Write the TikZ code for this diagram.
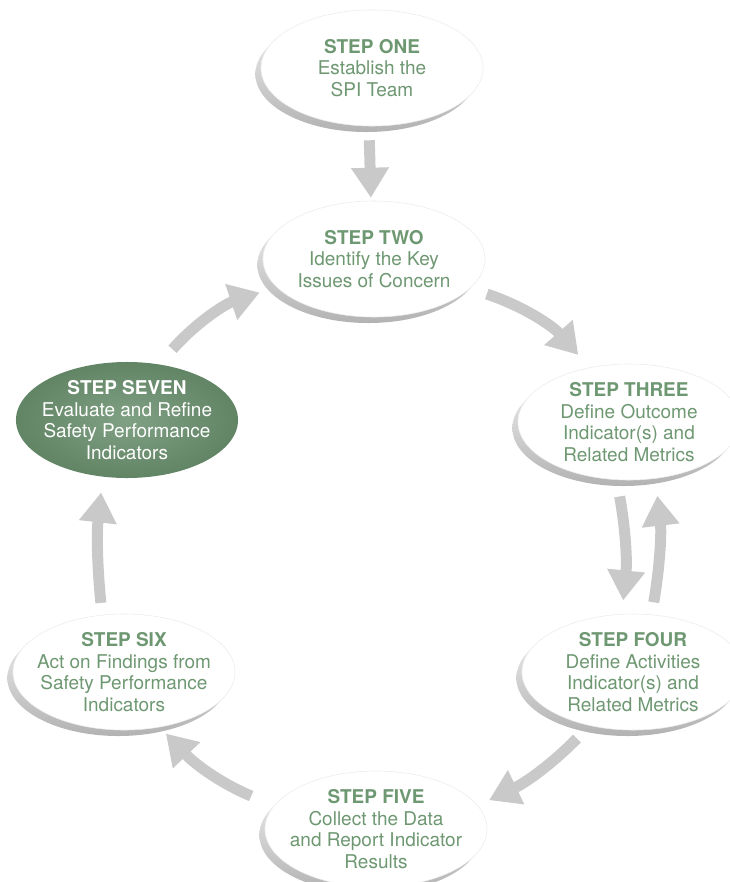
\documentclass[tikz,border=0pt]{standalone}
\usepackage{fontspec}
\setmainfont{TeX Gyre Heros}
\usetikzlibrary{shapes.geometric, arrows.meta, shadows}
\definecolor{stepgreen}{RGB}{110,152,114}
\definecolor{sevengreen}{RGB}{106,144,110}

\begin{document}
\begin{tikzpicture}[x=0.025cm, y=-0.025cm,
  basebox/.style={ellipse, minimum width=5.55cm, minimum height=2.9cm,
    inner sep=-1cm, align=center, font=\fontsize{13.5}{15.4}\selectfont},
  stepbox/.style={basebox, text=stepgreen, fill=white, draw=gray!15, thin,
    general shadow={shadow xshift=-.14cm, shadow yshift=-.15cm,
      top color=gray!10, bottom color=gray!60}},
  greenbox/.style={basebox, text=white,
    inner color=sevengreen!85!white, outer color=sevengreen!92!black},
  flow/.style={draw=gray!42, line width=.275cm,
    -{Triangle[length=.75cm, width=.9cm]}}]

  \useasboundingbox (0,0) rectangle (730,882);

  \node[stepbox] (one) at (372,68) {\textbf{STEP ONE}\\Establish the\\SPI Team};
  \node[stepbox] (two) at (374,259) {\textbf{STEP TWO}\\Identify the Key\\Issues of Concern};
  \node[stepbox] (three) at (629,422) {\textbf{STEP THREE}\\Define Outcome\\Indicator(s) and\\Related Metrics};
  \node[stepbox] (four) at (633,672) {\textbf{STEP FOUR}\\Define Activities\\Indicator(s) and\\Related Metrics};
  \node[stepbox] (five) at (376,829) {\textbf{STEP FIVE}\\Collect the Data\\and Report Indicator\\Results};
  \node[stepbox] (six) at (124,672) {\textbf{STEP SIX}\\Act on Findings from\\Safety Performance\\Indicators};
  \node[greenbox] (seven) at (127,420) {\textbf{STEP SEVEN}\\Evaluate and Refine\\Safety Performance\\Indicators};

  \draw[flow, shorten <=.35cm, shorten >=.075cm] (one.-93) -- (two.93);
  \draw[flow, shorten <=.44cm, shorten >=.42cm] (two.-17) to[bend left=15] (three.126);
  \draw[flow, shorten <=.42cm, shorten >=.34cm] (three.-102) to[bend left=8] (four.101);
  \draw[flow, shorten <=.31cm, shorten >=.43cm] (four.72) to[bend right=8] (three.-65);
  \draw[flow, shorten <=.45cm, shorten >=.31cm] (four.-129) to[bend left=10] (five.13);
  \draw[flow, shorten <=.62cm, shorten >=.22cm] (five.167) to[bend left=12] (six.-57);
  \draw[flow, shorten <=.3cm, shorten >=.39cm] (six.111) to[bend left=6] (seven.-113);
  \draw[flow, shorten <=.5cm, shorten >=.44cm] (seven.60) to[bend left=15] (two.196);
\end{tikzpicture}
\end{document}
